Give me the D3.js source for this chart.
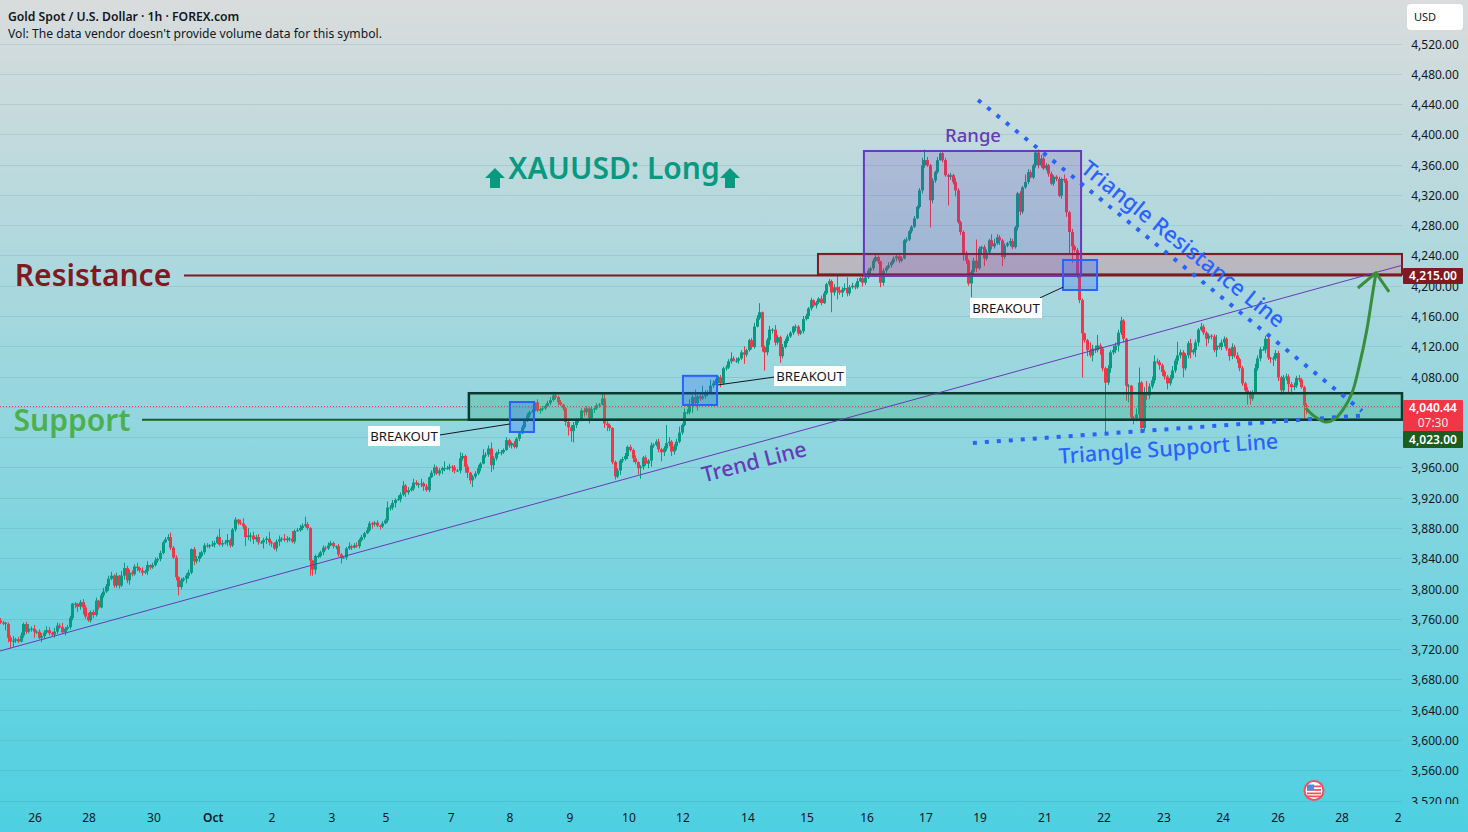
<!DOCTYPE html>
<html>
<head>
<meta charset="utf-8">
<title>Gold Spot / U.S. Dollar 1h</title>
<script src="https://cdn.jsdelivr.net/npm/d3@7/dist/d3.min.js"></script>
<style>
html,body{margin:0;padding:0;background:#4dd0e1;overflow:hidden}
svg{display:block}
text{font-family:"Noto Sans","Open Sans",sans-serif}
</style>
</head>
<body>
<svg id="chart" width="1468" height="832"></svg>
<script>
// Hourly closes; each bar opens at the previous close.
const firstOpen = 3758;
const closes = [
3755,3755,3753,3735,3730,3731,3733,3730,3738,3753,3743,3747,3747,3743,3743,3735,3737,3742,3745,3741,
3739,3743,3751,3749,3742,3747,3749,3761,3780,3780,3776,3782,3775,3763,3758,3769,3765,3784,3775,3791,
3796,3803,3813,3817,3804,3817,3804,3817,3827,3811,3821,3819,3829,3827,3824,3821,3823,3831,3828,3831,
3837,3839,3847,3861,3865,3868,3854,3841,3815,3802,3811,3813,3817,3821,3852,3836,3839,3843,3848,3857,
3856,3857,3858,3860,3868,3858,3860,3861,3864,3857,3878,3891,3887,3886,3882,3868,3870,3870,3865,3868,
3861,3861,3864,3866,3861,3860,3853,3862,3865,3866,3864,3866,3866,3862,3876,3877,3880,3883,3885,3880,
3837,3825,3843,3843,3848,3854,3853,3857,3860,3856,3856,3845,3841,3841,3853,3856,3854,3857,3856,3864,
3868,3873,3877,3886,3885,3887,3883,3882,3886,3890,3907,3907,3913,3917,3918,3924,3936,3927,3930,3932,
3940,3938,3938,3939,3935,3930,3947,3953,3960,3952,3956,3959,3959,3959,3961,3960,3956,3956,3972,3975,
3961,3953,3943,3948,3952,3959,3965,3976,3977,3985,3963,3972,3979,3980,3980,3983,3996,3989,3992,3987,
3998,4005,4013,4022,4029,4033,4034,4046,4035,4037,4038,4041,4045,4049,4055,4053,4046,4043,4038,4020,
4013,4008,4016,4022,4023,4035,4033,4038,4025,4037,4038,4042,4043,4051,4018,4016,4012,3967,3948,3956,
3969,3971,3975,3987,3983,3972,3967,3959,3961,3973,3965,3969,3989,3990,3994,3984,3980,3985,3992,3994,
3981,3988,3994,4006,4016,4033,4033,4042,4053,4045,4054,4051,4054,4058,4059,4068,4071,4074,4079,4071,
4091,4092,4100,4104,4101,4101,4104,4112,4109,4115,4128,4119,4146,4157,4165,4119,4112,4128,4142,4142,
4125,4132,4107,4119,4127,4133,4138,4146,4146,4137,4140,4156,4160,4170,4181,4174,4178,4183,4177,4190,
4202,4206,4191,4198,4194,4191,4195,4197,4190,4198,4200,4198,4206,4210,4204,4211,4220,4223,4233,4238,
4232,4204,4220,4224,4227,4231,4236,4239,4233,4236,4260,4261,4272,4278,4289,4304,4326,4359,4366,4359,
4313,4339,4350,4366,4375,4366,4346,4344,4346,4337,4326,4284,4271,4243,4233,4203,4218,4233,4223,4249,
4251,4236,4244,4260,4252,4256,4264,4260,4238,4253,4256,4259,4251,4277,4322,4298,4330,4337,4350,4343,
4359,4376,4359,4368,4355,4359,4348,4335,4344,4341,4319,4341,4339,4297,4271,4252,4247,4212,4181,4137,
4128,4115,4108,4117,4115,4121,4117,4091,4072,4091,4112,4115,4121,4138,4154,4130,4068,4068,4026,4025,
4030,4072,4012,4058,4055,4067,4075,4100,4099,4095,4086,4080,4071,4078,4088,4101,4108,4112,4091,4108,
4124,4112,4115,4125,4142,4146,4138,4130,4134,4133,4115,4121,4119,4125,4130,4117,4107,4119,4108,4103,
4091,4071,4062,4059,4051,4059,4091,4104,4116,4116,4130,4105,4104,4104,4111,4079,4062,4079,4080,4070,
4066,4068,4078,4076,4066,4042,4040.44
];
// Distance in dollars from the top of each body to the high.
const upperWicks = [
3,2,1,2,3,6,2,3,4,2,3,6,3,5,2,3,4,3,5,4,
2,5,4,3,6,2,3,3,1,2,1,3,4,3,5,2,3,4,1,3,
5,3,4,5,2,4,1,6,7,3,4,3,3,5,2,4,2,5,1,3,
4,2,3,2,3,4,6,2,3,1,3,2,3,4,1,3,4,5,2,3,
3,2,5,3,2,11,4,3,8,2,2,3,1,4,7,2,10,4,5,3,
4,2,3,3,9,2,1,3,5,2,6,3,2,10,2,3,4,3,10,3,
1,1,2,3,2,3,2,4,3,2,1,3,2,1,2,5,2,3,4,2,
3,2,4,3,2,2,3,1,3,2,8,3,4,2,5,3,6,2,4,3,
5,3,2,6,2,3,1,3,4,2,3,2,9,3,4,2,3,2,8,4,
2,3,1,2,3,4,2,8,3,4,8,3,2,4,3,2,4,2,2,3,
2,1,3,2,3,2,3,2,4,2,3,2,3,4,5,3,2,3,1,2,
2,3,4,3,2,3,4,3,2,3,1,3,2,8,6,3,2,1,2,3,
2,3,4,2,3,2,4,1,2,2,3,2,4,2,3,4,2,3,24,6,
2,3,4,8,2,5,4,8,3,10,2,4,14,4,3,8,4,3,2,3,
2,3,3,8,3,4,2,3,8,2,2,3,5,4,12,1,2,3,5,2,
6,3,2,4,3,3,2,1,3,2,2,4,3,2,3,1,2,2,4,3,
2,3,2,4,16,5,3,6,14,3,4,3,4,2,3,6,3,2,3,3,
2,1,3,2,4,2,3,4,2,3,2,3,2,2,3,2,3,10,14,4,
2,3,2,4,1,2,3,2,3,2,5,3,2,2,3,2,3,4,28,3,
2,3,4,2,8,6,4,3,2,3,2,4,3,2,2,3,2,10,4,3,
2,2,4,5,3,3,2,3,2,2,3,2,6,3,2,4,2,3,2,2,
1,2,10,5,4,14,3,2,2,4,3,6,4,4,5,2,1,2,1,2,
8,20,2,8,16,4,5,8,4,3,2,3,2,4,6,3,18,4,3,3,
3,6,2,4,2,5,3,2,3,2,3,14,3,4,3,2,1,5,3,4,
2,3,2,4,2,3,6,4,3,4,4,2,1,3,4,3,2,3,4,3,
3,4,3,4,2,2,3
];
// Distance in dollars from the bottom of each body to the low.
const lowerWicks = [
2,3,8,6,9,7,3,2,1,3,3,2,4,8,3,2,6,4,2,3,
2,4,3,2,1,4,2,3,3,6,7,4,9,3,2,3,4,2,3,1,
3,2,6,2,3,3,4,2,5,4,6,3,2,4,3,4,2,5,3,2,
2,3,3,2,1,2,3,2,4,11,3,2,6,4,2,5,3,4,2,3,
2,3,2,4,1,2,3,2,5,3,2,3,3,2,4,12,4,8,6,3,
3,2,8,5,4,5,2,4,6,3,2,3,4,2,3,1,2,3,2,3,
20,8,6,3,2,4,3,2,1,3,4,3,8,2,3,2,3,1,2,3,
2,3,1,2,6,3,2,4,2,1,3,4,3,6,1,4,2,6,3,2,
3,2,5,4,6,2,3,1,4,2,3,5,4,2,3,6,4,2,4,3,
8,7,5,9,3,2,4,1,3,3,9,6,3,2,4,2,1,3,4,2,
2,3,1,2,2,3,1,3,2,4,3,2,1,3,2,3,4,2,3,5,
11,14,15,4,3,2,6,4,7,3,5,2,3,1,6,8,4,3,4,2,
6,3,2,4,2,5,3,8,14,4,3,6,8,3,2,4,12,5,3,4,
6,4,5,2,3,2,3,3,10,4,10,3,2,3,4,2,3,2,3,5,
2,3,2,3,1,3,4,2,12,3,2,3,2,1,2,6,24,4,6,5,
4,3,9,3,2,3,2,3,6,3,2,3,2,4,3,2,4,2,3,1,
2,3,26,4,12,3,6,2,4,3,2,3,2,1,5,3,2,6,3,2,
3,6,4,3,2,3,2,4,3,2,1,3,2,3,2,1,2,4,3,2,
36,4,3,2,1,3,2,38,4,3,8,2,4,10,4,3,18,4,5,2,
6,10,3,2,4,3,2,6,12,3,2,4,3,2,4,5,3,2,3,1,
2,3,4,3,2,3,4,2,3,3,2,4,3,6,28,22,3,2,4,58,
3,8,3,8,4,3,8,4,66,3,6,3,4,8,3,5,20,22,3,8,
4,6,6,4,6,5,3,4,2,6,5,4,8,3,2,3,5,4,12,3,
4,8,3,9,5,2,3,10,6,4,3,9,3,4,5,3,6,4,3,5,
4,3,2,16,8,3,2,3,4,2,5,3,6,10,3,5,6,3,4,12,
10,4,3,3,2,18,10
];

const priceTicks = d3.range(3520, 4521, 40);
// Scale numbers covered by the last-price and support tags are left out.
const hiddenPriceLabels = [4000, 4040];
const dayLabels = ["26","28","30","Oct","2","3","5","7","8","9","10","12","14","15","16","17","19","21","22","23","24","26","28","2"];
const dayBars = [13.6,34.5,59.6,82.6,105.3,128.6,149.5,174.7,197.5,220.7,243.6,264.5,289.7,312.6,335.8,358.6,379.6,404.7,427.6,450.8,473.7,495,519.8,541.5];

// Levels and drawing tools, given as [bar, price].
const lastPrice = 4040.44, supportLevel = 4023, resistanceLevel = 4215;
const supportZone = [181.6, 543, 4058, supportLevel];
const resistanceZone = [316.8, 543, 4242, resistanceLevel];
const rangeBox = [334.6, 418.7, 4378, 4213];
const breakoutBoxes = [[197.5,206.8,4046.4,4006.8],[264.5,277.7,4081,4042.5],[411.7,424.9,4234,4194.4]];
const trendLine = [[0,3717.5],[543,4227]];
const triangleResistance = [[378.8,4445.4],[527.5,4034.6]];
const triangleSupport = [[376.8,3992.3],[527.5,4028.6]];
const breakoutLeaders = [
  [[170.4,4002.9],[197.5,4017.4]],
  [[278.1,4069],[300.2,4079.5]],
  [[402.8,4184],[411.7,4198]]
];
const projectionBars = [505.7,508.5,513.2,517,520.1,523.6,526.7,529.4,531.4,532.9];
const projectionPrices = [4038.5,4029,4020,4024,4036,4058,4098,4142,4185,4217];
const projectionHead = [[525.9,4197],[532.9,4217],[538,4192]];

const W = 1468, H = 832, plotRight = 1402;
const x = d3.scaleLinear().domain([0, 543]).range([0, plotRight]);
const y = d3.scaleLinear().domain([3520, 4520]).range([800.5, 43.5]);
const GREEN = "#089981", RED = "#f23645", PURPLE = "#673ab7", BLUE = "#2962ff";
const DARK_RED = "#801922", DARK_GREEN = "#1b5e20", INK = "#131722";

const svg = d3.select("#chart");
const defs = svg.append("defs");
const grad = defs.append("linearGradient").attr("id","paneFill").attr("x1",0).attr("y1",0).attr("x2",0).attr("y2",1);
grad.append("stop").attr("offset","0%").attr("stop-color","#d9dcdc");
grad.append("stop").attr("offset","100%").attr("stop-color","#4dd0e1");
defs.append("clipPath").attr("id","priceClip").append("rect").attr("x",1403).attr("y",0).attr("width",65).attr("height",804);

svg.append("rect").attr("width",W).attr("height",H).attr("fill","url(#paneFill)");

// Horizontal grid
svg.append("g").selectAll("line").data(priceTicks).join("line")
  .attr("x1",0).attr("x2",plotRight)
  .attr("y1",d=>Math.round(y(d))+.5).attr("y2",d=>Math.round(y(d))+.5)
  .attr("stroke","#2a6a7a").attr("stroke-opacity",.13);

// Candles
const bars = closes.map((c,i)=>{
  const o = i ? closes[i-1] : firstOpen;
  return {i,o,c,h:Math.max(o,c)+upperWicks[i],l:Math.min(o,c)-lowerWicks[i]};
});
const candles = svg.append("g").selectAll("g").data(bars).join("g")
  .attr("fill",d=>d.c>=d.o?GREEN:RED);
candles.append("rect")
  .attr("x",d=>Math.round(x(d.i))).attr("width",1)
  .attr("y",d=>y(d.h)).attr("height",d=>y(d.l)-y(d.h));
candles.append("rect")
  .attr("x",d=>Math.round(x(d.i))-1).attr("width",3)
  .attr("y",d=>y(Math.max(d.o,d.c))).attr("height",d=>Math.max(1,Math.abs(y(d.o)-y(d.c))));

// Last price marker line
svg.append("line").attr("x1",0).attr("x2",plotRight).attr("y1",y(lastPrice)).attr("y2",y(lastPrice))
  .attr("stroke",RED).attr("stroke-dasharray","1 2");

const zoneRect = (parent,z,stroke,fill,sw)=>parent.append("rect")
  .attr("x",x(z[0])).attr("y",y(z[2])).attr("width",x(z[1])-x(z[0])).attr("height",y(z[3])-y(z[2]))
  .attr("fill",fill).attr("stroke",stroke).attr("stroke-width",sw);
const seg = d3.line().x(d=>x(d[0])).y(d=>y(d[1]));
const tools = svg.append("g");

// Support and resistance rays sit under their zones
tools.append("line").attr("x1",142).attr("x2",plotRight).attr("y1",y(supportLevel)).attr("y2",y(supportLevel))
  .attr("stroke",DARK_GREEN).attr("stroke-width",2);
tools.append("line").attr("x1",184).attr("x2",plotRight).attr("y1",y(resistanceLevel)+1).attr("y2",y(resistanceLevel)+1)
  .attr("stroke",DARK_RED).attr("stroke-width",2);

zoneRect(tools,supportZone,"#0b3a33","rgba(40,170,110,.26)",2.5);
zoneRect(tools,resistanceZone,DARK_RED,"rgba(242,54,69,.2)",2);
zoneRect(tools,rangeBox,PURPLE,"rgba(103,58,183,.2)",2);
breakoutBoxes.forEach(b=>zoneRect(tools,b,BLUE,"rgba(41,98,255,.27)",2));

tools.append("path").attr("d",seg(trendLine)).attr("fill","none").attr("stroke",PURPLE).attr("stroke-width",1);
[triangleResistance,triangleSupport].forEach(t=>tools.append("path").attr("d",seg(t))
  .attr("fill","none").attr("stroke",BLUE).attr("stroke-width",4).attr("stroke-dasharray","4 8"));

// Projected path back up to resistance
const curve = d3.line().x(d=>x(d[0])).y(d=>y(d[1])).curve(d3.curveCatmullRom);
tools.append("path").attr("d",curve(projectionBars.map((b,i)=>[b,projectionPrices[i]])))
  .attr("fill","none").attr("stroke","#388e3c").attr("stroke-width",3);
tools.append("path").attr("d",seg(projectionHead)).attr("fill","none").attr("stroke","#388e3c").attr("stroke-width",3);

// Callouts
breakoutLeaders.forEach(l=>tools.append("path").attr("d",seg(l)).attr("fill","none").attr("stroke","#131722").attr("stroke-width",1));
[[404,436],[810,376],[1006,308]].forEach(([cx,cy])=>{
  tools.append("rect").attr("x",cx-36).attr("y",cy-10).attr("width",72).attr("height",20).attr("fill","#fff");
  tools.append("text").attr("x",cx).attr("y",cy+5).attr("text-anchor","middle").attr("font-size",13.2).attr("fill",INK).text("BREAKOUT");
});

const label = (t,px,py,size,fill,weight,rot)=>{
  const n = tools.append("text").attr("text-anchor","middle").attr("font-size",size).attr("fill",fill)
    .attr("font-weight",weight||400).attr("transform",`translate(${px},${py}) rotate(${rot||0})`).text(t);
  return n;
};
label("Resistance",93,286,30,DARK_RED,600);
label("Support",72,431,30,"#4caf50",600);
label("Range",973,142,18.5,PURPLE,500);
label("XAUUSD: Long",614,179,30,GREEN,600);
label("Trend Line",756,469,21.5,PURPLE,500,-14.5);
label("Triangle Resistance Line",1178.5,250,22,BLUE,500,38.5);
label("Triangle Support Line",1169,456,21.5,BLUE,500,-4);

// Up arrows beside the headline
[495,730].forEach(cx=>tools.append("path")
  .attr("d",`M${cx},168 L${cx+10},178 L${cx+5},178 L${cx+5},188 L${cx-5},188 L${cx-5},178 L${cx-10},178 Z`).attr("fill",GREEN));

// Header
svg.append("text").attr("x",8).attr("y",21).attr("font-size",12.2).attr("font-weight",600).attr("fill",INK).text("Gold Spot / U.S. Dollar · 1h · FOREX.com");
svg.append("text").attr("x",8).attr("y",38).attr("font-size",12.15).attr("fill",INK).text("Vol: The data vendor doesn't provide volume data for this symbol.");

// Price scale
svg.append("g").attr("clip-path","url(#priceClip)").selectAll("text")
  .data(priceTicks.filter(p=>!hiddenPriceLabels.includes(p))).join("text")
  .attr("x",1435).attr("y",d=>y(d)+5).attr("text-anchor","middle").attr("font-size",12).attr("fill",INK)
  .text(d=>d3.format(",.2f")(d));

// Currency button
svg.append("rect").attr("x",1407).attr("y",4).attr("width",56).attr("height",26).attr("rx",4).attr("fill","#fff");
svg.append("text").attr("x",1425).attr("y",21).attr("text-anchor","middle").attr("font-size",11).attr("fill",INK).text("USD");

// Price labels on the scale
const tag = (top,h,fill)=>svg.append("rect").attr("x",1403).attr("y",top).attr("width",60).attr("height",h).attr("rx",1).attr("fill",fill);
const tagText = (t,py,w,op)=>svg.append("text").attr("x",1433).attr("y",py).attr("text-anchor","middle").attr("font-size",12)
  .attr("font-weight",w).attr("fill","#fff").attr("fill-opacity",op||1).text(t);
tag(268,16,DARK_RED); tagText(d3.format(",.2f")(resistanceLevel),280,600);
tag(400,32,RED); tagText(d3.format(",.2f")(lastPrice),412,600); tagText("07:30",426.5,400,.9);
tag(431,17,DARK_GREEN); tagText(d3.format(",.2f")(supportLevel),444,600);

// Time axis
svg.append("g").selectAll("text").data(dayLabels).join("text")
  .attr("x",(d,i)=>x(dayBars[i])).attr("y",822).attr("text-anchor","middle").attr("font-size",12)
  .attr("font-weight",d=>d==="Oct"?600:400).attr("fill",INK).text(d=>d);

// Economic event marker
const flag = svg.append("g").attr("transform","translate(1314,790.5)");
flag.append("circle").attr("r",9.5).attr("fill","#fff").attr("stroke","#f0515f").attr("stroke-width",2);
[-5,-1.5,2,5].forEach(d=>flag.append("rect").attr("x",-7).attr("y",d).attr("width",14).attr("height",1.8).attr("fill","#ef5361"));
flag.append("rect").attr("x",-7).attr("y",-6).attr("width",7).attr("height",6).attr("fill","#4a90e2");
</script>
</body>
</html>
